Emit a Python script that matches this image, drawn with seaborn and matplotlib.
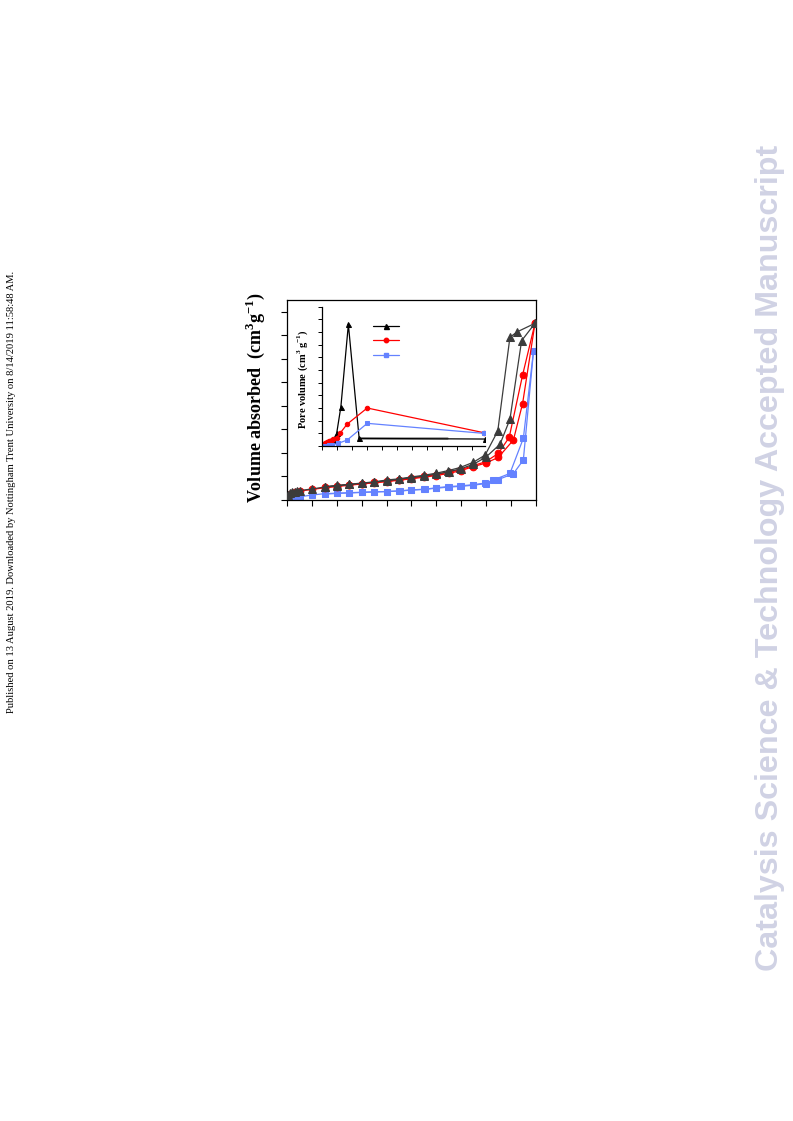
import matplotlib
matplotlib.use("Agg")
import matplotlib.pyplot as plt
import seaborn as sns
import numpy as np
import pandas as pd
from matplotlib.lines import Line2D

sns.set_theme(style="white")
plt.rcParams['font.family'] = ['Liberation Serif', 'DejaVu Serif']
plt.rcParams['mathtext.fontset'] = 'custom'
plt.rcParams['mathtext.rm'] = 'Liberation Serif'
plt.rcParams['mathtext.bf'] = 'Liberation Serif:bold'

# ---------------- main isotherm data (P/P0, volume) ----------------
black_ads_p = [0.003, 0.01, 0.02, 0.03, 0.04, 0.05, 0.10, 0.15, 0.20, 0.25, 0.30, 0.35, 0.40,
               0.45, 0.50, 0.55, 0.60, 0.65, 0.70, 0.75, 0.80, 0.857, 0.897, 0.944, 0.998]
black_ads_v = [20, 28, 32, 35, 38, 40, 47, 55, 60, 66, 71, 76, 82,
               88, 95, 102, 110, 120, 133, 152, 182, 237, 343, 677, 751]
black_des_p = [0.998, 0.927, 0.897, 0.848, 0.797, 0.749, 0.696, 0.649, 0.60, 0.55, 0.50,
               0.45, 0.40, 0.35, 0.30, 0.25, 0.20, 0.15]
black_des_v = [751, 715, 692, 293, 191, 160, 138, 125, 114, 105, 98,
               90, 85, 77, 72, 67, 62, 57]

red_ads_p = [0.003, 0.01, 0.02, 0.03, 0.05, 0.10, 0.15, 0.20, 0.25, 0.30, 0.35, 0.40,
             0.45, 0.50, 0.55, 0.60, 0.65, 0.70, 0.75, 0.80, 0.85, 0.911, 0.948, 0.998]
red_ads_v = [18, 26, 30, 33, 38, 45, 52, 57, 63, 68, 73, 78,
             84, 90, 97, 104, 113, 125, 142, 157, 181, 255, 410, 751]
red_des_p = [0.998, 0.948, 0.894, 0.850, 0.800, 0.749, 0.696, 0.65, 0.60, 0.55, 0.50,
             0.45, 0.40, 0.35, 0.30, 0.25, 0.20, 0.15]
red_des_v = [751, 531, 266, 198, 163, 146, 128, 118, 108, 100, 93,
             86, 80, 75, 70, 65, 60, 55]

blue_ads_p = [0.003, 0.01, 0.03, 0.05, 0.10, 0.15, 0.20, 0.25, 0.30, 0.35, 0.40, 0.45,
              0.50, 0.55, 0.60, 0.65, 0.70, 0.75, 0.80, 0.85, 0.911, 0.951, 0.992]
blue_ads_v = [3, 6, 10, 14, 21, 27, 29, 31, 33, 35, 36, 38,
              42, 45, 50, 55, 58, 63, 70, 87, 112, 170, 633]
blue_des_p = [0.992, 0.951, 0.897, 0.830, 0.797, 0.749, 0.696, 0.649, 0.60, 0.555, 0.50,
              0.454, 0.40, 0.35, 0.30, 0.25, 0.20, 0.15]
blue_des_v = [633, 262, 113, 85, 72, 65, 60, 57, 52, 46, 43,
              39, 36, 34, 32, 30, 28, 25]

# ---------------- inset pore-size distribution ----------------
in_black_x = [1.0, 1.7, 2.4, 3.1, 3.8, 5.0, 6.4, 8.9, 12.5, 54.4]
in_black_y = [0.05, 0.15, 0.25, 0.30, 0.45, 1.0, 3.1, 9.6, 0.6, 0.55]
in_red_x = [1.2, 1.7, 2.3, 2.8, 3.4, 3.9, 5.0, 6.1, 8.5, 15.2, 54.1]
in_red_y = [0.25, 0.34, 0.36, 0.42, 0.45, 0.53, 0.65, 1.0, 1.73, 3.0, 1.05]
in_blue_x = [1.2, 1.7, 2.5, 3.3, 5.5, 8.5, 15.2, 54.0]
in_blue_y = [0.0, 0.03, 0.06, 0.08, 0.21, 0.47, 1.79, 1.0]
in_gray_x = [12.5, 41.7]
in_gray_y = [0.62, 0.62]

C_BLACK = '#3c3c3c'
C_RED = '#ff0000'
C_BLUE = '#6482ff'

W, H = 793, 1121
fig = plt.figure(figsize=(W / 100, H / 100), dpi=100)
fig.patch.set_facecolor('white')


def fx(px):
    return px / W


def fy(py):
    return 1 - py / H


ax = fig.add_axes([fx(287.3), fy(500), fx(535.5) - fx(287.3), fy(300) - fy(500)])
ax.set_facecolor('white')

series = [
    (black_ads_p, black_ads_v, C_BLACK, '^', 5.4),
    (black_des_p, black_des_v, C_BLACK, '^', 5.4),
    (red_ads_p, red_ads_v, C_RED, 'o', 4.8),
    (red_des_p, red_des_v, C_RED, 'o', 4.8),
    (blue_ads_p, blue_ads_v, C_BLUE, 's', 4.5),
    (blue_des_p, blue_des_v, C_BLUE, 's', 4.5),
]
for order, (xs, ys, c, m, ms) in zip([3, 3, 2, 2, 1, 1], series):
    df = pd.DataFrame({'x': xs, 'y': ys})
    sns.lineplot(data=df, x='x', y='y', sort=False, estimator=None, ax=ax,
                 color=c, marker=m, markersize=ms, markeredgecolor=c,
                 linewidth=0.9, zorder=order)

ax.set_xlim(0, 1.0)
ax.set_ylim(0, 850)
ax.set_xticks(np.arange(0, 1.01, 0.1))
ax.set_yticks(np.arange(0, 851, 100))
ax.tick_params(axis='both', direction='out', length=4, width=0.8, color='black',
               labelbottom=False, labelleft=False, bottom=True, left=True)
for s in ax.spines.values():
    s.set_color('black')
    s.set_linewidth(0.9)
ax.set_xlabel('')
ax.set_ylabel('')

fig.text(fx(255), fy(398), 'Volume absorbed  (cm$^{\\mathbf{3}}$g$^{\\mathbf{-1}}$)',
         rotation=90, ha='center', va='center', fontsize=13, fontweight='bold',
         color='black')

# ---------------- inset ----------------
axi = fig.add_axes([fx(321.7), fy(446), fx(485) - fx(321.7), fy(306.7) - fy(446)])
axi.patch.set_alpha(0)
sns.lineplot(x=in_gray_x, y=in_gray_y, ax=axi, color='#8a8a8a', linewidth=1.8,
             sort=False, estimator=None)
for xs, ys, c, m, ms in [(in_black_x, in_black_y, 'black', '^', 3.6),
                         (in_red_x, in_red_y, C_RED, 'o', 3.2),
                         (in_blue_x, in_blue_y, C_BLUE, 's', 3.0)]:
    sns.lineplot(x=xs, y=ys, ax=axi, color=c, marker=m, markersize=ms,
                 markeredgecolor=c, linewidth=0.9, sort=False, estimator=None)
axi.set_xlim(0, 54.5)
axi.set_ylim(0, 11)
axi.set_xticks(np.arange(0, 54.5, 5))
axi.set_yticks(np.arange(0, 11.01, 1))
axi.tick_params(axis='both', direction='out', length=3, width=0.7, color='black',
                labelbottom=False, labelleft=False, bottom=True, left=True)
axi.spines['top'].set_visible(False)
axi.spines['right'].set_visible(False)
for k in ['left', 'bottom']:
    axi.spines[k].set_color('black')
    axi.spines[k].set_linewidth(0.9)
axi.set_xlabel('')
axi.set_ylabel('')
fig.text(fx(303), fy(379), 'Pore volume (cm$^{\\mathbf{3}}$ g$^{\\mathbf{-1}}$)',
         rotation=90, ha='center', va='center', fontsize=7.5, fontweight='bold',
         color='black')

handles = [Line2D([], [], color='black', marker='^', markersize=3.6, linewidth=0.9),
           Line2D([], [], color=C_RED, marker='o', markersize=3.2, linewidth=0.9),
           Line2D([], [], color=C_BLUE, marker='s', markersize=3.0, linewidth=0.9)]
fig.legend(handles, ['', '', ''], loc='upper left',
           bbox_to_anchor=(fx(373), fy(322)), frameon=False, fontsize=8,
           handlelength=2.3, labelspacing=0.42, borderpad=0, borderaxespad=0,
           handletextpad=0)

# ---------------- page margin texts ----------------
fig.text(fx(12), fy(492),
         'Published on 13 August 2019. Downloaded by Nottingham Trent University on 8/14/2019 11:58:48 AM.',
         rotation=90, ha='center', va='center', fontsize=7.6, color='black',
         family=['Liberation Serif'])
fig.text(fx(770), fy(558), 'Catalysis Science & Technology Accepted Manuscript',
         rotation=90, ha='center', va='center', fontsize=23.2, fontweight='bold',
         color='#d0d2e4', family=['Liberation Sans'])

fig.savefig('out.png', dpi=100, facecolor='white')
